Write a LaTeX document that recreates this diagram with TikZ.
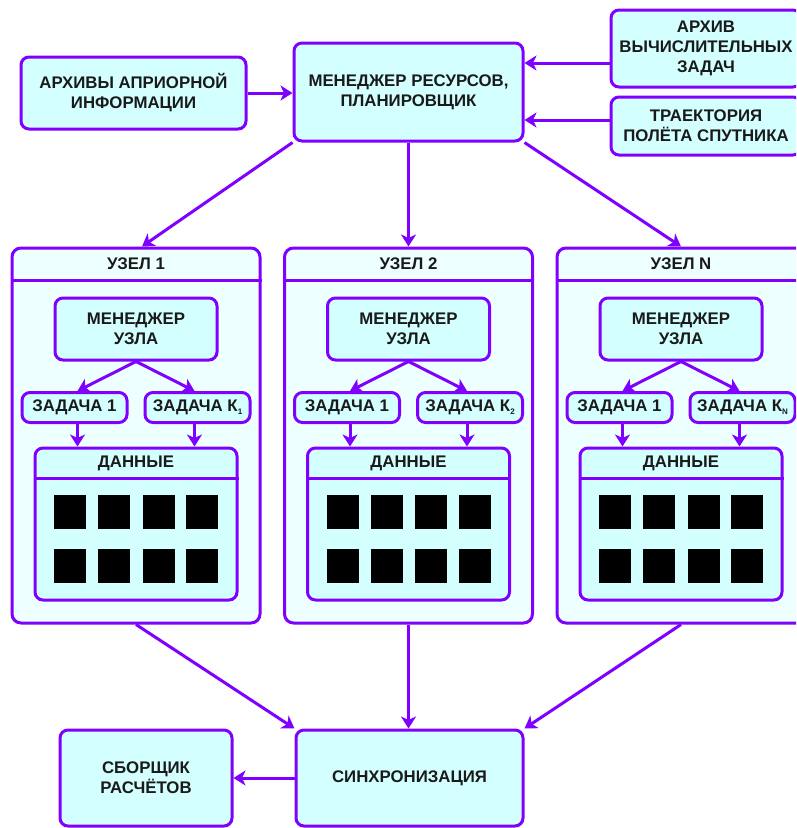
\documentclass[tikz,border=0pt]{standalone}
\usepackage{fontspec}
\setmainfont{Liberation Sans}
\usetikzlibrary{arrows.meta}
\definecolor{vio}{HTML}{8000FF}
\definecolor{boxfill}{HTML}{D4FFFF}
\definecolor{nodefill}{HTML}{EEFFFF}
\definecolor{ink}{HTML}{1A1A1A}
\newcommand\ksub[1]{\raisebox{-2.5pt}{\fontsize{8}{8}\selectfont #1}}
\begin{document}
\begin{tikzpicture}[x=1pt,y=-1pt,
  txt/.style={text=ink, font=\bfseries\fontsize{16.8}{20}\selectfont, align=center, inner sep=0pt},
  box/.style={txt, draw=vio, line width=3pt, fill=boxfill, rounded corners=8pt},
  outer/.style={draw=vio, line width=3pt, fill=nodefill, rounded corners=9pt, inner sep=0pt,
    minimum width=248pt, minimum height=375pt},
  datab/.style={draw=vio, line width=3pt, fill=boxfill, rounded corners=8pt, inner sep=0pt,
    minimum width=202pt, minimum height=152pt},
  cell/.style={fill=black, inner sep=0pt, minimum width=32pt, minimum height=34pt},
  arr/.style={draw=vio, line width=3pt, -{Stealth[length=12pt,width=15pt,inset=3.5pt]}},
  sep/.style={draw=vio, line width=3pt}
]
\useasboundingbox (0,0) rectangle (796,828);
\clip (0,0) rectangle (796,828);

% top row
\node[box, minimum width=225pt, minimum height=72pt] (apr) at (133.5,93) {АРХИВЫ АПРИОРНОЙ\\ИНФОРМАЦИИ};
\node[box, minimum width=229pt, minimum height=98pt] (mgr) at (408.5,92) {МЕНЕДЖЕР РЕСУРСОВ,\\ПЛАНИРОВЩИК};
\node[box, minimum width=190pt, minimum height=77pt] (arch) at (706,48.5) {АРХИВ\\ВЫЧИСЛИТЕЛЬНЫХ\\ЗАДАЧ};
\node[box, minimum width=190pt, minimum height=58pt] (traj) at (706,126) {ТРАЕКТОРИЯ\\ПОЛЁТА СПУТНИКА};

\draw[arr] (apr.east) -- (apr.east -| mgr.west);
\draw[arr] (arch.west |- 0,63) -- (mgr.east |- 0,63);
\draw[arr] (traj.west |- 0,120) -- (mgr.east |- 0,120);

% computing nodes
\foreach \c/\i/\lab/\k in {136/1/1/1, 408.5/2/2/2, 681/3/N/N}{
  \node[outer] (n\i) at (\c,435.5) {};
  \draw[sep] (n\i.west |- 0,280) -- (n\i.east |- 0,280);
  \node[txt] (h\i) at (\c,264) {УЗЕЛ \lab};
  \node[box, minimum width=162pt, minimum height=62pt] (nm\i) at (\c,329) {МЕНЕДЖЕР\\УЗЛА};
  \node[box, minimum width=105pt, minimum height=30pt] (ta\i) at (\c-61.5,407.5) {ЗАДАЧА 1};
  \node[box, minimum width=105pt, minimum height=30pt] (tb\i) at (\c+61.5,407.5) {ЗАДАЧА К\ksub{\k}};
  \node[datab] (d\i) at (\c,524) {};
  \draw[sep] (d\i.west |- 0,478) -- (d\i.east |- 0,478);
  \node[txt] (dh\i) at (\c,463) {ДАННЫЕ};
  \foreach \dx [count=\j] in {-66,-22,22.5,66}{
    \node[cell] (ca\i\j) at (\c+\dx,511.5) {};
    \node[cell] (cb\i\j) at (\c+\dx,565.5) {};
  }
  \draw[arr] (nm\i.south) -- ([xshift=3pt]ta\i.north);
  \draw[arr] (nm\i.south) -- ([xshift=-3pt]tb\i.north);
  \draw[arr] ([xshift=3pt]ta\i.south) -- ([xshift=3pt]ta\i.south |- d\i.north);
  \draw[arr] ([xshift=-3pt]tb\i.south) -- ([xshift=-3pt]tb\i.south |- d\i.north);
}

\draw[arr] (mgr.south west) -- ([xshift=6pt]n1.north);
\draw[arr] (mgr.south -| n2.north) -- (n2.north);
\draw[arr] (mgr.south east) -- (n3.north);

% bottom row
\node[box, minimum width=227pt, minimum height=96pt] (sync) at (409.5,778) {СИНХРОНИЗАЦИЯ};
\node[box, minimum width=172pt, minimum height=96pt] (sbor) at (146,778) {СБОРЩИК\\РАСЧЁТОВ};

\draw[arr] (n1.south) -- (sync.north west);
\draw[arr] (n2.south) -- (n2.south |- sync.north);
\draw[arr] (n3.south) -- (sync.north east);
\draw[arr] (sync.west) -- (sbor.east);
\end{tikzpicture}
\end{document}
